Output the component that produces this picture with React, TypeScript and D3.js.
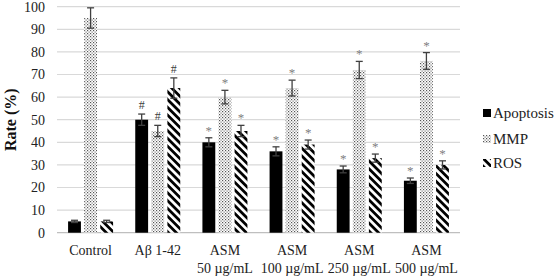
import React from "react";
import * as d3 from "d3";

const categories = ["Control", "Aβ 1-42", "ASM|50 µg/mL", "ASM|100 µg/mL", "ASM|250 µg/mL", "ASM|500 µg/mL"];
const seriesNames = ["Apoptosis", "MMP", "ROS"];
const apoptosis = [5, 50, 40, 36, 28, 23];
const apoptosisErr = [0.5, 2.5, 2, 2, 1.5, 1.2];
const mmp = [95, 45, 60, 64, 72, 76];
const mmpErr = [4.5, 2.5, 3, 3.5, 3.8, 3.7];
const ros = [5, 64, 45, 39, 33, 30];
const rosErr = [0.5, 4.5, 2.5, 2, 1.8, 1.8];
const marks = ["", "#", "*", "*", "*", "*"];
const yTicks = [0, 10, 20, 30, 40, 50, 60, 70, 80, 90, 100];

const FONT = "'Liberation Serif', serif";

const left = 57;
const right = 460;
const top = 6.7;
const bottom = 232.7;

const App: React.FC = () => {
  const x = d3.scaleBand<string>().domain(categories).range([left, right]);
  const y = d3.scaleLinear().domain([0, 100]).range([bottom, top]);
  const inner = d3.scaleBand<string>().domain(seriesNames).range([-22.5, 22.5]).paddingInner(0.2);
  const bw = inner.bandwidth();

  const series = [
    { name: "Apoptosis", values: apoptosis, errs: apoptosisErr },
    { name: "MMP", values: mmp, errs: mmpErr },
    { name: "ROS", values: ros, errs: rosErr },
  ];
  const fills = ["#000", "url(#dots)", "url(#stripes)"];
  const legendY = [113, 139, 163];

  return (
    <div style={{ position: "absolute", left: 0, top: 0, width: 555, height: 277, background: "#fff" }}>
      <svg width={555} height={277} fontFamily={FONT}>
        <defs>
          <pattern id="dots" patternUnits="userSpaceOnUse" width={3} height={3}>
            <rect width={3} height={3} fill="#fff" />
            <rect x={0} y={0} width={1.2} height={1.2} fill="#555" />
            <rect x={1.5} y={1.5} width={1.2} height={1.2} fill="#777" />
          </pattern>
          <pattern id="stripes" patternUnits="userSpaceOnUse" width={5.5} height={5.5} patternTransform="rotate(45)">
            <rect width={5.5} height={5.5} fill="#fff" />
            <rect x={0} y={0} width={5.5} height={2.8} fill="#000" />
          </pattern>
        </defs>

        {/* gridlines */}
        {yTicks.map((t) => (
          <line key={t} x1={left} x2={right} y1={y(t)} y2={y(t)}
            stroke={t === 0 ? "#bfbfbf" : "#d9d9d9"} strokeWidth={1.2} />
        ))}

        {/* y tick labels */}
        {yTicks.map((t) => (
          <text key={t} x={45} y={y(t)} dy="0.35em" textAnchor="end" fontSize={14} fill="#222">
            {t}
          </text>
        ))}

        <text transform={`translate(10,${(top + bottom) / 2}) rotate(-90)`} dy="0.35em" textAnchor="middle"
          fontSize={16} fontWeight="bold" fill="#111">
          Rate (%)
        </text>

        {/* x labels */}
        {categories.map((c) => {
          const cx = (x(c) as number) + x.bandwidth() / 2;
          return c.split("|").map((ln, i) => (
            <text key={c + i} x={cx} y={250 + i * 18} dy="0.35em" textAnchor="middle" fontSize={14} fill="#222">
              {ln}
            </text>
          ));
        })}

        {/* bars, error bars, marks */}
        {series.map((s, si) =>
          s.values.map((v, i) => {
            const cx = (x(categories[i]) as number) + x.bandwidth() / 2;
            const bx = cx + (inner(s.name) as number);
            const mx = bx + bw / 2;
            const e = s.errs[i];
            const isStar = marks[i] === "*";
            return (
              <g key={s.name + i}>
                <rect x={bx} y={y(v)} width={bw} height={bottom - y(v)} fill={fills[si]} />
                <line x1={mx} x2={mx} y1={y(v + e)} y2={y(v - e)} stroke="#404040" strokeWidth={1.3} />
                <line x1={mx - 3.5} x2={mx + 3.5} y1={y(v + e)} y2={y(v + e)} stroke="#404040" strokeWidth={1.3} />
                <line x1={mx - 3.5} x2={mx + 3.5} y1={y(v - e)} y2={y(v - e)} stroke="#404040" strokeWidth={1.3} />
                {marks[i] && (
                  <text x={mx} y={y(v + e) - (isStar ? 3 : 5)} textAnchor="middle"
                    fontSize={isStar ? 13 : 12} fill={isStar ? "#808080" : "#404040"}>
                    {marks[i]}
                  </text>
                )}
              </g>
            );
          })
        )}

        {/* legend */}
        {seriesNames.map((n, i) => (
          <g key={n}>
            <rect x={483} y={legendY[i] - 4} width={8} height={8} fill={fills[i]} />
            <text x={493} y={legendY[i]} dy="0.35em" fontSize={15} fill="#222">{n}</text>
          </g>
        ))}
      </svg>
    </div>
  );
};

export default App;
